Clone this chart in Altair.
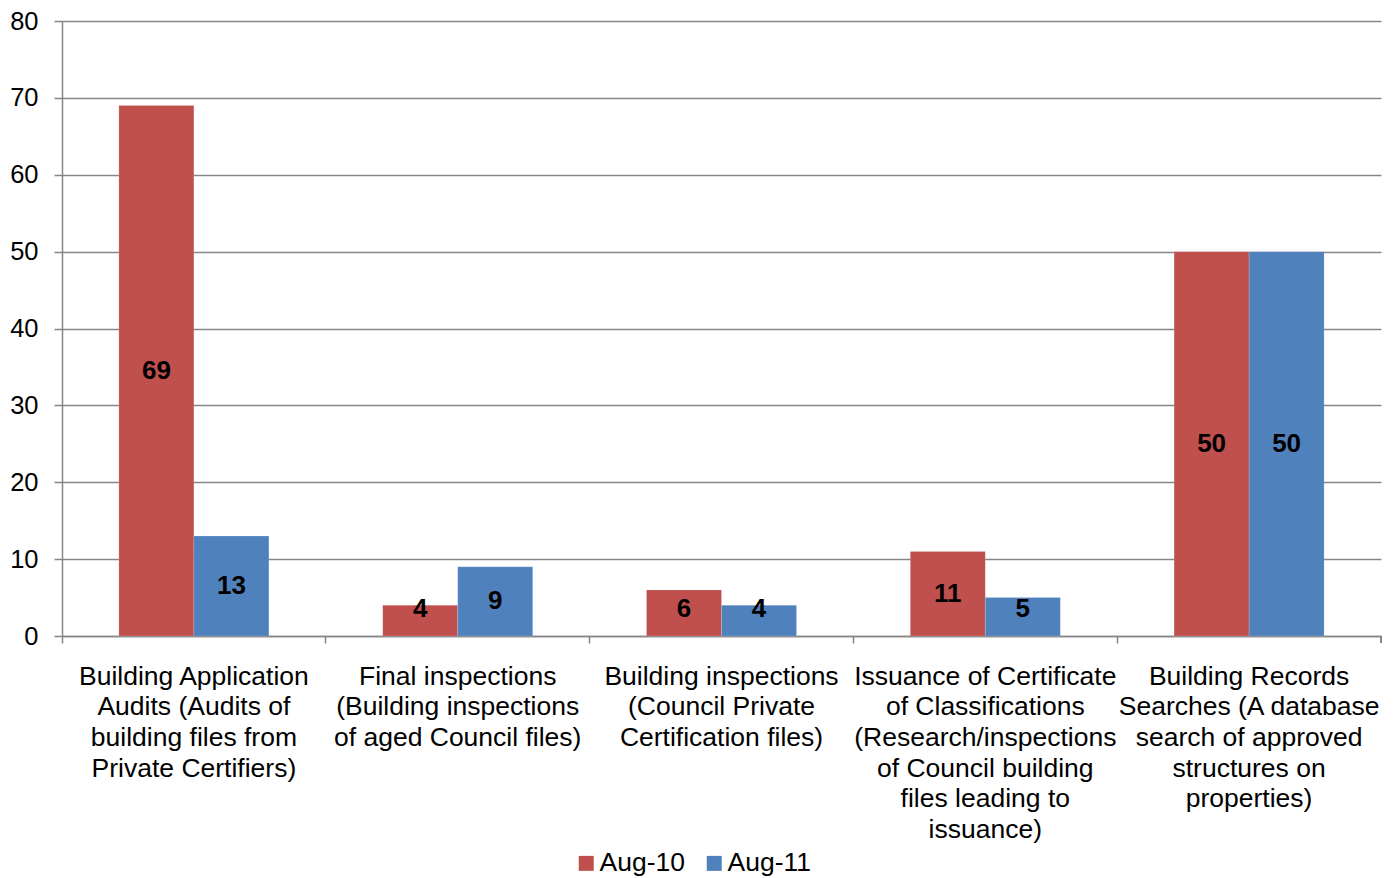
import altair as alt
import pandas as pd

categories = [
    "Building Application|Audits (Audits of|building files from|Private Certifiers)",
    "Final inspections|(Building inspections|of aged Council files)",
    "Building inspections|(Council Private|Certification files)",
    "Issuance of Certificate|of Classifications|(Research/inspections|of Council building|files leading to|issuance)",
    "Building Records|Searches (A database|search of approved|structures on|properties)",
]
series = ["Aug-10", "Aug-11"]
aug10 = [69, 4, 6, 11, 50]
aug11 = [13, 9, 4, 5, 50]
colors = ["#C0504D", "#4F81BD"]
y_ticks = [0, 10, 20, 30, 40, 50, 60, 70, 80]

rows = []
for i, c in enumerate(categories):
    rows.append({"category": c, "series": series[0], "value": aug10[i]})
    rows.append({"category": c, "series": series[1], "value": aug11[i]})
df = pd.DataFrame(rows)

W, H = 1319, 615
FONT = "Liberation Sans"
GRAY = "#868686"
FS = 26.5

x_enc = alt.X(
    "category:N",
    sort=categories,
    scale=alt.Scale(paddingInner=0, paddingOuter=0),
    axis=alt.Axis(
        title=None,
        labelAngle=0,
        labelExpr="split(datum.label, '|')",
        labelFont=FONT,
        labelFontSize=FS,
        labelColor="#000000",
        labelLineHeight=30.7,
        labelLimit=400,
        labelPadding=20,
        labelBaseline="top",
        ticks=True,
        tickSize=7,
        tickColor=GRAY,
        tickWidth=1.5,
        bandPosition=0,
        domainColor=GRAY,
        domainWidth=1.5,
        grid=False,
    ),
)
xoff = alt.XOffset("series:N", sort=series, scale=alt.Scale(paddingInner=0, paddingOuter=0.7587))

y_axis = alt.Axis(
    title=None,
    values=y_ticks,
    labelFont=FONT,
    labelFontSize=25.5,
    labelColor="#000000",
    labelPadding=16,
    tickSize=8,
    tickColor=GRAY,
    tickWidth=1.5,
    domainColor=GRAY,
    domainWidth=1.5,
    grid=True,
    gridColor=GRAY,
    gridWidth=1.5,
)

bars = alt.Chart(df).mark_bar(stroke="#ffffff", strokeOpacity=0.3, strokeWidth=0.5).encode(
    x=x_enc,
    xOffset=xoff,
    y=alt.Y("value:Q", scale=alt.Scale(domain=[0, 80], nice=False), axis=y_axis),
    color=alt.Color(
        "series:N",
        sort=series,
        scale=alt.Scale(domain=series, range=colors),
        legend=alt.Legend(
            title=None,
            orient="none",
            legendX=511,
            legendY=829,
            direction="horizontal",
            symbolType="square",
            symbolSize=225,
            symbolStrokeWidth=0,
            symbolOpacity=1,
            labelFont=FONT,
            labelFontSize=FS,
            labelColor="#000000",
            labelOffset=0,
            columnPadding=16,
            padding=0,
        ),
    ),
)

labels = alt.Chart(df).transform_calculate(
    pos="max(datum.value / 2, 3.5)"
).mark_text(font=FONT, fontSize=26, fontWeight="bold", color="#000000", baseline="middle").encode(
    x=alt.X("category:N", sort=categories),
    xOffset=alt.XOffset("series:N", sort=series),
    y=alt.Y("pos:Q"),
    text=alt.Text("value:Q"),
)

end_tick = alt.Chart(df).mark_rule(color=GRAY, strokeWidth=1.5).encode(
    x=alt.value(W), y=alt.value(H), y2=alt.value(H + 7)
)

chart = (
    alt.layer(bars, labels, end_tick)
    .properties(
        width=W,
        height=H,
        autosize=alt.AutoSizeParams(type="none"),
        padding={"left": 54, "top": 13, "right": 7, "bottom": 242},
    )
    .configure_view(stroke="transparent")
)

chart.save("out.html", embed_options={"renderer": "svg", "actions": False})
